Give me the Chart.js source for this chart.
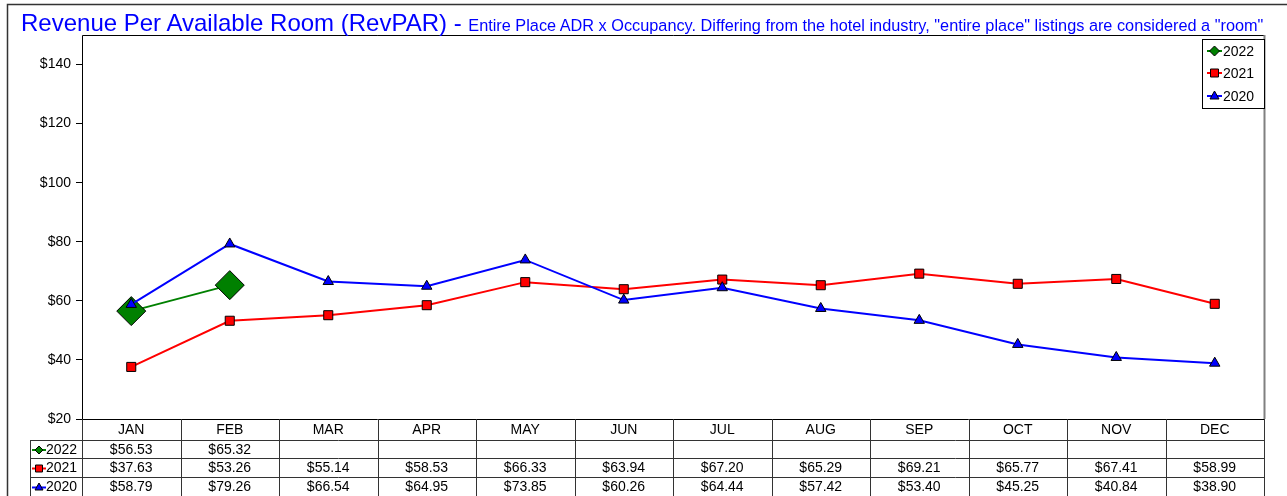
<!DOCTYPE html>
<html>
<head>
<meta charset="utf-8">
<script src="https://cdn.jsdelivr.net/npm/chart.js@4.4.1/dist/chart.umd.min.js"></script>
<style>
html,body{margin:0;padding:0;background:#fff;}
#wrap{position:relative;width:1287px;height:496px;overflow:hidden;}
#title{position:absolute;left:21px;top:11px;white-space:nowrap;color:#0000FF;font-family:"Liberation Sans",Arial,sans-serif;line-height:24px;z-index:2;}
#title .big{font-size:24px;}
#title .small{font-size:16.3px;}
canvas{position:absolute;left:0;top:0;}
</style>
</head>
<body>
<div id="wrap">
<canvas id="c" width="1287" height="496"></canvas>
<div id="title"><span class="big">Revenue Per Available Room (RevPAR) - </span><span class="small">Entire Place ADR x Occupancy. Differing from the hotel industry, "entire place" listings are considered a "room"</span></div>
</div>
<script>
const categories = ["JAN","FEB","MAR","APR","MAY","JUN","JUL","AUG","SEP","OCT","NOV","DEC"];
const seriesNames = ["2022","2021","2020"];
const values2022 = [56.53, 65.32, null, null, null, null, null, null, null, null, null, null];
const values2021 = [37.63, 53.26, 55.14, 58.53, 66.33, 63.94, 67.20, 65.29, 69.21, 65.77, 67.41, 58.99];
const values2020 = [58.79, 79.26, 66.54, 64.95, 73.85, 60.26, 64.44, 57.42, 53.40, 45.25, 40.84, 38.90];
const yTicks = [20, 40, 60, 80, 100, 120, 140];

const FONT = '"Liberation Sans", Arial, sans-serif';
const colors = {"2022": "#008000", "2021": "#FF0000", "2020": "#0000FF"};
const shapes = {"2022": "rectRot", "2021": "rect", "2020": "triangle"};
const seriesValues = {"2022": values2022, "2021": values2021, "2020": values2020};

function drawMarker(ctx, shape, x, y, size, fill) {
  ctx.save();
  ctx.fillStyle = fill;
  ctx.strokeStyle = '#000';
  ctx.lineWidth = 1;
  ctx.beginPath();
  if (shape === 'rectRot') {
    ctx.moveTo(x - size, y); ctx.lineTo(x, y - size); ctx.lineTo(x + size, y); ctx.lineTo(x, y + size);
  } else if (shape === 'rect') {
    ctx.rect(x - size, y - size, 2 * size, 2 * size);
  } else {
    ctx.moveTo(x, y - size - 1); ctx.lineTo(x + size + 0.5, y + size - 1); ctx.lineTo(x - size - 0.5, y + size - 1);
  }
  ctx.closePath();
  ctx.fill(); ctx.stroke();
  ctx.restore();
}

const framePlugin = {
  id: 'frame',
  afterDraw(chart) {
    const ctx = chart.ctx;
    const a = chart.chartArea;
    const xs = chart.scales.x;
    ctx.save();
    // outer frame
    ctx.strokeStyle = '#333';
    ctx.lineWidth = 1.5;
    ctx.beginPath();
    ctx.moveTo(7.5, 497); ctx.lineTo(7.5, 4.5); ctx.lineTo(1290, 4.5);
    ctx.stroke();
    // plot border
    ctx.lineWidth = 1;
    ctx.strokeStyle = '#000';
    ctx.beginPath();
    ctx.moveTo(a.left + 0.5, a.bottom + 0.5); ctx.lineTo(a.left + 0.5, a.top + 0.5); ctx.lineTo(a.right, a.top + 0.5);
    ctx.moveTo(a.left, a.bottom + 0.5); ctx.lineTo(a.right, a.bottom + 0.5);
    ctx.stroke();
    ctx.strokeStyle = '#808080';
    ctx.lineWidth = 2;
    ctx.beginPath();
    ctx.moveTo(a.right + 0.5, a.top); ctx.lineTo(a.right + 0.5, a.bottom);
    ctx.stroke();

    // data table
    const n = categories.length;
    const colW = (a.right - a.left) / n;
    const rowTops = [a.bottom, 440, 458, 477, 496];
    ctx.strokeStyle = '#333';
    ctx.lineWidth = 1;
    ctx.beginPath();
    for (let k = 0; k <= n; k++) {
      const x = Math.round(a.left + colW * k) + 0.5;
      ctx.moveTo(x, a.bottom); ctx.lineTo(x, 497);
    }
    for (let r = 1; r < rowTops.length; r++) {
      ctx.moveTo(30, rowTops[r] + 0.5); ctx.lineTo(a.right, rowTops[r] + 0.5);
    }
    ctx.moveTo(30.5, 440); ctx.lineTo(30.5, 497);
    ctx.stroke();

    ctx.fillStyle = '#000';
    ctx.font = '14px ' + FONT;
    ctx.textAlign = 'center';
    ctx.textBaseline = 'middle';
    categories.forEach((c, i) => {
      ctx.fillText(c, xs.getPixelForValue(i), (rowTops[0] + rowTops[1]) / 2 + 1);
    });
    seriesNames.forEach((s, r) => {
      const yc = (rowTops[r + 1] + rowTops[r + 2]) / 2 + 1;
      const vals = seriesValues[s];
      ctx.textAlign = 'center';
      vals.forEach((v, i) => {
        if (v === null) return;
        ctx.fillText('$' + v.toFixed(2), xs.getPixelForValue(i), yc);
      });
      // legend key in table
      ctx.strokeStyle = colors[s];
      ctx.lineWidth = 2;
      ctx.beginPath(); ctx.moveTo(32, yc); ctx.lineTo(46, yc); ctx.stroke();
      drawMarker(ctx, shapes[s], 39, yc, s === '2022' ? 4 : 3.5, colors[s]);
      ctx.fillStyle = '#000';
      ctx.textAlign = 'left';
      ctx.fillText(s, 46, yc);
    });

    // legend box
    const lx = 1202, ly = 39, lw = a.right - 1202, lh = 69;
    ctx.fillStyle = '#fff';
    ctx.fillRect(lx, ly, lw, lh);
    ctx.strokeStyle = '#000';
    ctx.lineWidth = 1;
    ctx.strokeRect(lx + 0.5, ly + 0.5, lw, lh);
    const itemY = [51, 73, 96];
    seriesNames.forEach((s, r) => {
      const y = itemY[r];
      ctx.strokeStyle = colors[s];
      ctx.lineWidth = 2;
      ctx.beginPath(); ctx.moveTo(1207, y); ctx.lineTo(1222, y); ctx.stroke();
      drawMarker(ctx, shapes[s], 1214.5, y, s === '2022' ? 5 : 4, colors[s]);
      ctx.fillStyle = '#000';
      ctx.font = '14px ' + FONT;
      ctx.textAlign = 'left';
      ctx.textBaseline = 'middle';
      ctx.fillText(s, 1223, y + 1);
    });
    ctx.restore();
  }
};

new Chart(document.getElementById('c'), {
  type: 'line',
  data: {
    labels: categories,
    datasets: [
      {label: '2022', data: values2022, borderColor: colors['2022'], backgroundColor: colors['2022'],
       pointStyle: 'rectRot', pointRadius: 14.5, pointBorderColor: '#000', pointBorderWidth: 1, borderWidth: 2, order: 2, spanGaps: false},
      {label: '2021', data: values2021, borderColor: colors['2021'], backgroundColor: colors['2021'],
       pointStyle: 'rect', pointRadius: 6.4, pointBorderColor: '#000', pointBorderWidth: 1, borderWidth: 2, order: 1},
      {label: '2020', data: values2020, borderColor: colors['2020'], backgroundColor: colors['2020'],
       pointStyle: 'triangle', pointRadius: 6, pointBorderColor: '#000', pointBorderWidth: 1, borderWidth: 2, order: 0}
    ]
  },
  options: {
    responsive: false,
    animation: false,
    events: [],
    layout: {padding: {left: 0, top: 35, right: 23, bottom: 77}},
    plugins: {legend: {display: false}, title: {display: false}, tooltip: {enabled: false}},
    elements: {line: {tension: 0}},
    scales: {
      x: {
        type: 'category',
        offset: true,
        ticks: {display: false},
        grid: {display: false},
        border: {display: false},
        afterFit(scale) { scale.height = 0; }
      },
      y: {
        min: 20, max: 150,
        ticks: {
          stepSize: 20,
          color: '#000',
          padding: 5,
          font: {family: FONT, size: 14},
          callback: (v) => '$' + v
        },
        afterBuildTicks(scale) { scale.ticks = yTicks.map(v => ({value: v})); },
        grid: {display: true, drawOnChartArea: false, drawTicks: true, tickLength: 6, color: '#000'},
        border: {display: false},
        afterFit(scale) { scale.width = 82; }
      }
    }
  },
  plugins: [framePlugin]
});
</script>
</body>
</html>
